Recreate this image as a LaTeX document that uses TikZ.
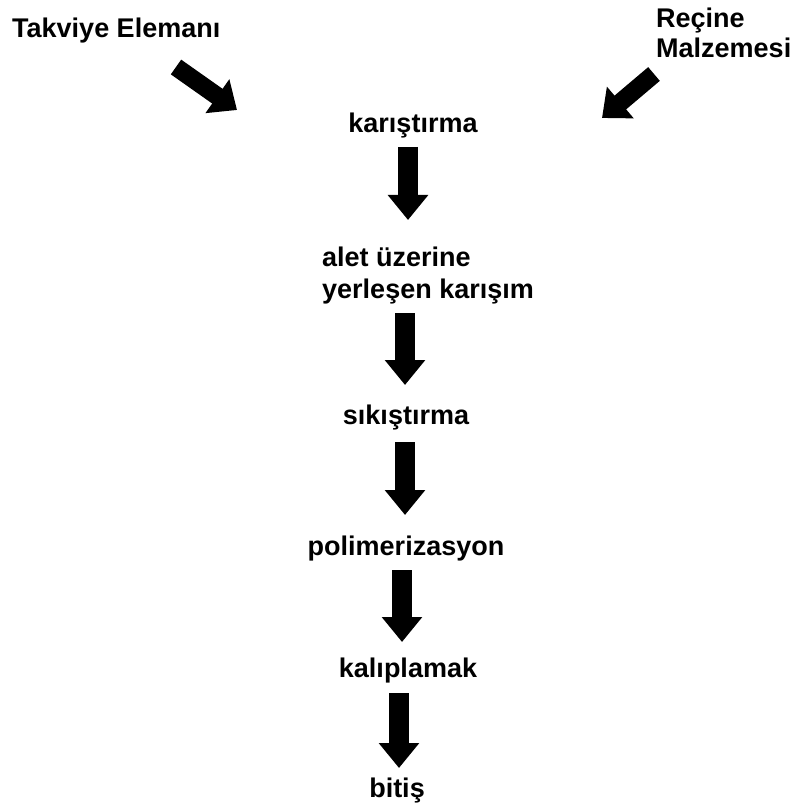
\documentclass[tikz,border=0pt]{standalone}
\usepackage{fontspec}
\setmainfont{Liberation Sans}
\usetikzlibrary{arrows.meta}
\tikzset{
  lbl/.style={inner sep=0pt, font=\bfseries\fontsize{27}{28}\selectfont, text=black},
  bigarrow/.style={line width=20pt, draw=black, -{Triangle[width=39pt,length=25pt]}},
  diagarrow/.style={line width=18pt, draw=black, -{Triangle[width=40pt,length=24pt]}}
}
\begin{document}
\begin{tikzpicture}[x=1pt,y=-1pt]
\useasboundingbox[fill=white] (0,0) rectangle (797,810);
% labels
\node[lbl, anchor=base west] (tak) at (12,38) {Takviye Elemanı};
\node[lbl, anchor=north west, align=left, font=\bfseries\fontsize{27}{30}\selectfont] (rec) at (656,8) {Reçine\\Malzemesi};
\node[lbl, anchor=base] (kar) at (413,133) {karıştırma};
\node[lbl, anchor=north west, align=left, font=\bfseries\fontsize{27}{32}\selectfont] (ale) at (322,247) {alet üzerine\\yerleşen karışım};
\node[lbl, anchor=base] (sik) at (406,424) {sıkıştırma};
\node[lbl, anchor=base] (pol) at (406,555) {polimerizasyon};
\node[lbl, anchor=base] (kal) at (408,677) {kalıplamak};
\node[lbl, anchor=base] (bit) at (397,797) {bitiş};
% diagonal arrows
\draw[diagarrow] ([shift={(164,29)}]tak.base west) -- ([shift={(-176,-23)}]kar.base);
\draw[diagarrow] ([shift={(-2,66)}]rec.north west) -- ([shift={(189,-15)}]kar.base);
% vertical arrows
\draw[bigarrow] ([shift={(-5,14)}]kar.base) -- ([shift={(86,-27)}]ale.north west);
\draw[bigarrow] ([shift={(83,66)}]ale.north west) -- ([shift={(-1,-39)}]sik.base);
\draw[bigarrow] ([shift={(-1,18)}]sik.base) -- ([shift={(-1,-40)}]pol.base);
\draw[bigarrow] ([shift={(-4,15)}]pol.base) -- ([shift={(-6,-35)}]kal.base);
\draw[bigarrow] ([shift={(-9,16)}]kal.base) -- ([shift={(2,-29)}]bit.base);
\end{tikzpicture}
\end{document}
